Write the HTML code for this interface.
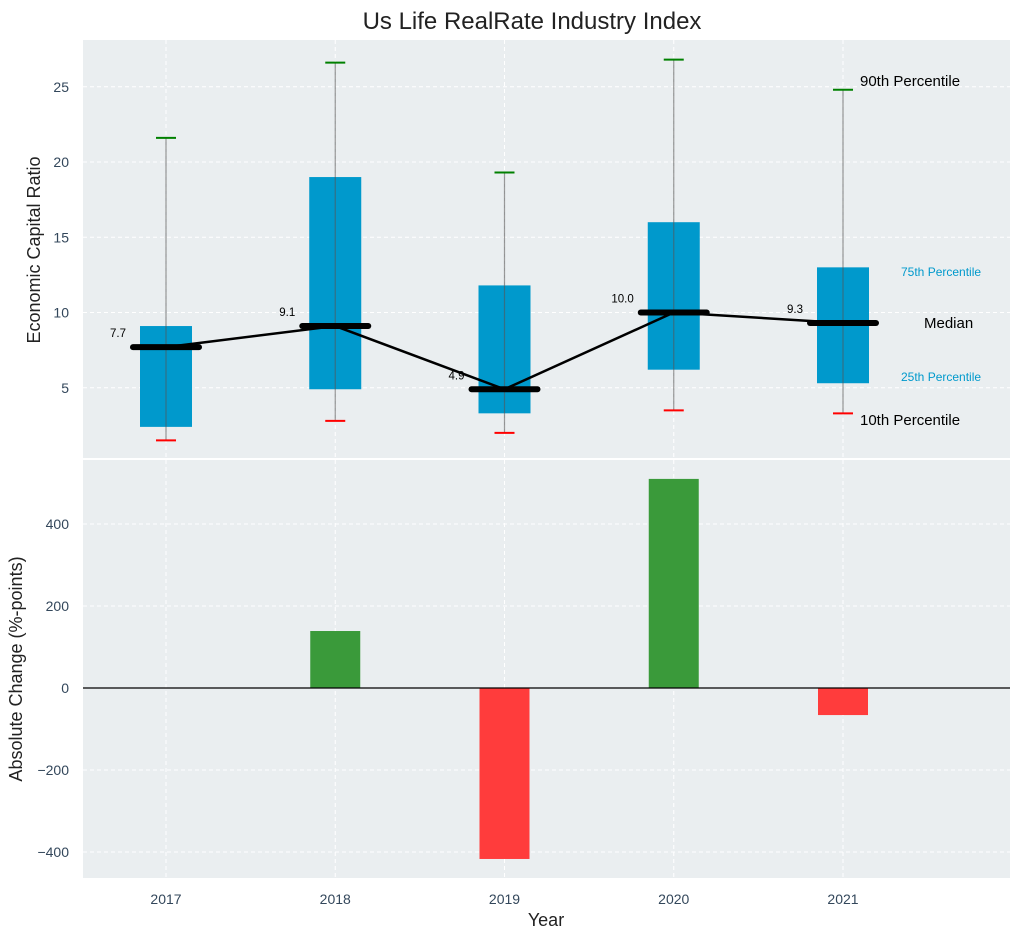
<!DOCTYPE html>
<html><head><meta charset="utf-8"><style>
html,body{margin:0;padding:0;background:#fff;}
svg text{font-family:"Liberation Sans",Arial,sans-serif;}
</style></head><body>
<svg id="chart" width="1021" height="940" xmlns="http://www.w3.org/2000/svg"></svg>
<script>
const years = [2017, 2018, 2019, 2020, 2021];
const p10 = [1.5, 2.8, 2.0, 3.5, 3.3];
const q1 = [2.4, 4.9, 3.3, 6.2, 5.3];
const medians = [7.7, 9.1, 4.9, 10.0, 9.3];
const q3 = [9.1, 19.0, 11.8, 16.0, 13.0];
const p90 = [21.6, 26.6, 19.3, 26.8, 24.8];
const changes = [0, 139, -417, 510, -66];
const topTicks = [5, 10, 15, 20, 25];
const botTicks = [-400, -200, 0, 200, 400];

const NS = 'http://www.w3.org/2000/svg';
const svg = document.getElementById('chart');
function mk(tag, attrs, parent) {
  const e = document.createElementNS(NS, tag);
  for (const k in attrs) e.setAttribute(k, attrs[k]);
  (parent || svg).appendChild(e);
  return e;
}
const L = 83, R = 1010;
const xs = v => 166 + (v - 2017) * 169.25;
const T1 = 40, B1 = 458, T2 = 460, B2 = 878;
const y1 = v => 463 - v * 15.05;
const y2 = v => 688 - v * 0.41;

let e = mk('rect', {x: L, y: T1, width: R - L, height: B1 - T1, fill: '#eaeef0'});


e = mk('rect', {x: L, y: T2, width: R - L, height: B2 - T2, fill: '#eaeef0'});



years.forEach(yr => {
  mk('line', {x1: xs(yr), x2: xs(yr), y1: T1, y2: B1, stroke: '#fff', 'stroke-dasharray': '4,3', 'stroke-width': 1});
  mk('line', {x1: xs(yr), x2: xs(yr), y1: T2, y2: B2, stroke: '#fff', 'stroke-dasharray': '4,3', 'stroke-width': 1});
});
topTicks.forEach(t => {
  mk('line', {x1: L, x2: R, y1: y1(t), y2: y1(t), stroke: '#fff', 'stroke-dasharray': '4,3'});
  e = mk('text', {x: L - 14, y: y1(t) + 5, 'text-anchor': 'end', 'font-size': 14, fill: '#33475b'});
  e.textContent = t;
  
  
});
botTicks.forEach(t => {
  mk('line', {x1: L, x2: R, y1: y2(t), y2: y2(t), stroke: '#fff', 'stroke-dasharray': '4,3'});
  e = mk('text', {x: L - 14, y: y2(t) + 5, 'text-anchor': 'end', 'font-size': 14, fill: '#33475b'});
  e.textContent = t === 0 ? '0' : (t < 0 ? '\u2212' + Math.abs(t) : t);
  
  
});

years.forEach((yr, i) => {
  const cx = xs(yr);
  e = mk('rect', {x: cx - 26, y: y1(q3[i]), width: 52, height: y1(q1[i]) - y1(q3[i]), fill: '#0099cc'});
  
  
  e = mk('line', {x1: cx, x2: cx, y1: y1(p10[i]), y2: y1(p90[i]), stroke: '#555', 'stroke-opacity': 0.6, 'stroke-width': 1.2});
  
  
  e = mk('line', {x1: cx - 10, x2: cx + 10, y1: y1(p90[i]), y2: y1(p90[i]), stroke: 'green', 'stroke-width': 2});
  
  
  e = mk('line', {x1: cx - 10, x2: cx + 10, y1: y1(p10[i]), y2: y1(p10[i]), stroke: 'red', 'stroke-width': 2});
  
  
});
e = mk('polyline', {points: years.map((yr, i) => xs(yr) + ',' + y1(medians[i])).join(' '), fill: 'none', stroke: '#000', 'stroke-width': 2.5});


years.forEach((yr, i) => {
  const cx = xs(yr);
  e = mk('line', {x1: cx - 33, x2: cx + 33, y1: y1(medians[i]), y2: y1(medians[i]), stroke: '#000', 'stroke-width': 6, 'stroke-linecap': 'round'});
  
  
  e = mk('text', {x: cx - 40, y: y1(medians[i]) - 10, 'text-anchor': 'end', 'font-size': 11.5, fill: '#000'});
  e.textContent = medians[i].toFixed(1);
  
  
});
[['90th Percentile', 860, 86, 15, '#000'], ['75th Percentile', 901, 276, 12, '#0099cc'], ['Median', 924, 328, 15, '#000'], ['25th Percentile', 901, 381, 12, '#0099cc'], ['10th Percentile', 860, 425, 15, '#000']].forEach(a => {
  e = mk('text', {x: a[1], y: a[2], 'font-size': a[3], fill: a[4]});
  e.textContent = a[0];
  
  
});

years.forEach((yr, i) => {
  const v = changes[i];
  if (v === 0) return;
  const top = Math.min(y2(v), y2(0)), h = Math.abs(y2(v) - y2(0));
  e = mk('rect', {x: xs(yr) - 25, y: top, width: 50, height: h, fill: v > 0 ? '#3a9a3a' : '#ff3c3c'});
  
  
});
e = mk('line', {x1: L, x2: R, y1: y2(0), y2: y2(0), stroke: '#000', 'stroke-width': 1.2});



years.forEach(yr => {
  e = mk('text', {x: xs(yr), y: 904, 'text-anchor': 'middle', 'font-size': 14, fill: '#33475b'});
  e.textContent = yr;
  
  
});
e = mk('text', {x: 532, y: 29, 'text-anchor': 'middle', 'font-size': 24, fill: '#222'});
e.textContent = 'Us Life RealRate Industry Index';


e = mk('text', {x: 546, y: 926, 'text-anchor': 'middle', 'font-size': 18, fill: '#222'});
e.textContent = 'Year';


e = mk('text', {x: 40, y: 250, 'text-anchor': 'middle', 'font-size': 18, fill: '#222', transform: 'rotate(-90 40 250)'});
e.textContent = 'Economic Capital Ratio';


e = mk('text', {x: 22, y: 669, 'text-anchor': 'middle', 'font-size': 18, fill: '#222', transform: 'rotate(-90 22 669)'});
e.textContent = 'Absolute Change (%-points)';


</script>
</body></html>
